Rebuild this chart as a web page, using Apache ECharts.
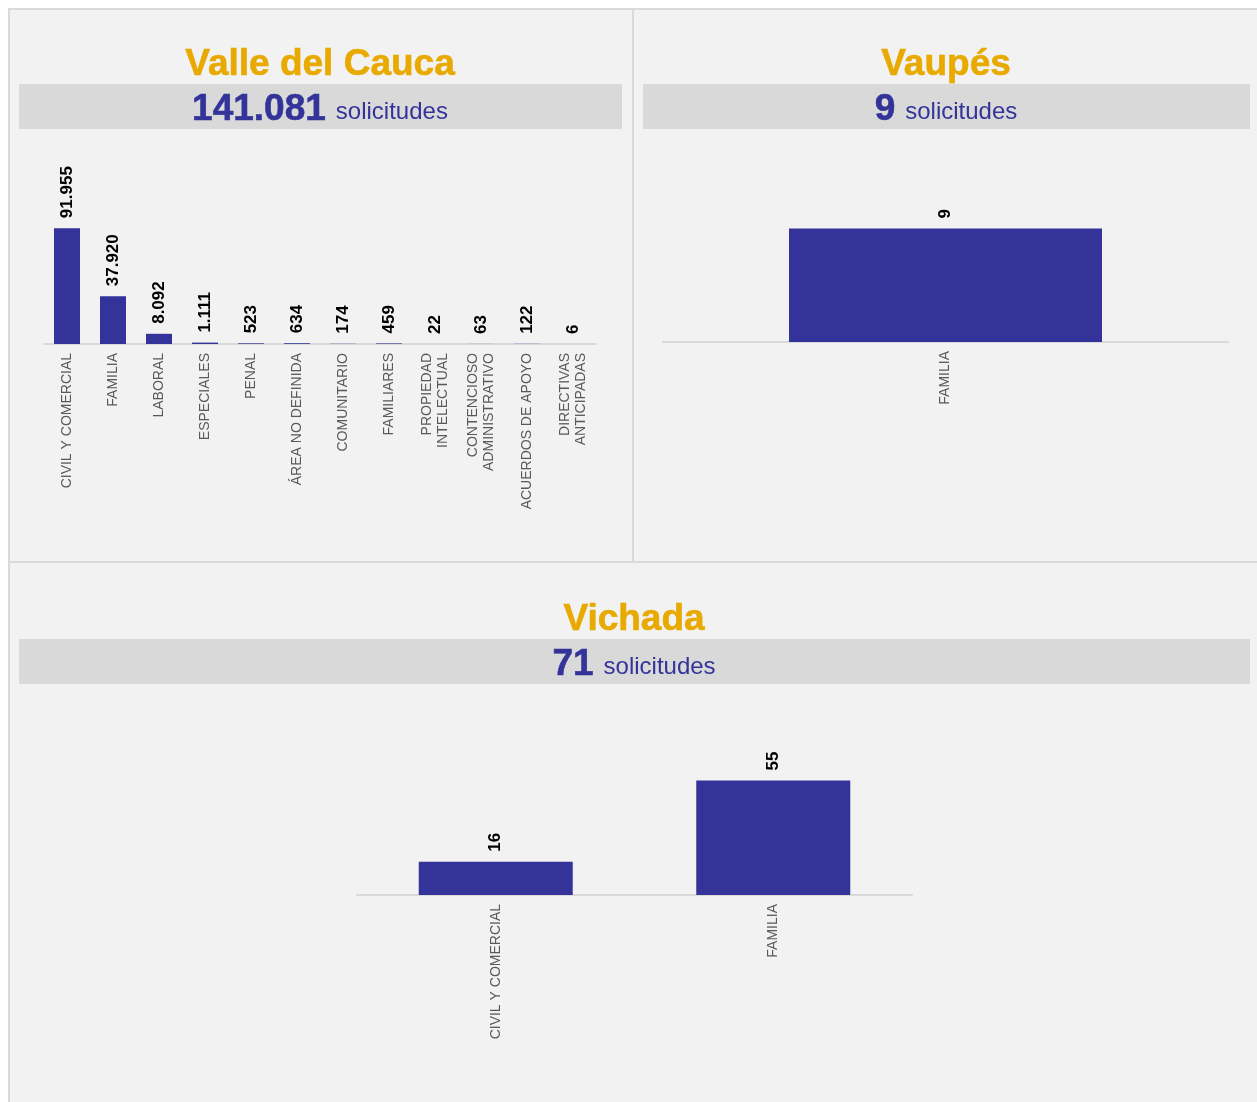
<!DOCTYPE html>
<html>
<head>
<meta charset="utf-8">
<script src="https://cdn.jsdelivr.net/npm/echarts@6/dist/echarts.min.js"></script>
<style>
  html, body { margin: 0; padding: 0; background: #ffffff; }
  #chart { width: 1257px; height: 1102px; }
</style>
</head>
<body>
<div id="chart"></div>
<script>
// datos por departamento
var valleCats = ['CIVIL Y COMERCIAL', 'FAMILIA', 'LABORAL', 'ESPECIALES', 'PENAL', 'ÁREA NO DEFINIDA',
  'COMUNITARIO', 'FAMILIARES', 'PROPIEDAD\nINTELECTUAL', 'CONTENCIOSO\nADMINISTRATIVO',
  'ACUERDOS DE APOYO', 'DIRECTIVAS\nANTICIPADAS'];
var valleVals = [91955, 37920, 8092, 1111, 523, 634, 174, 459, 22, 63, 122, 6];

var vaupesCats = ['FAMILIA'];
var vaupesVals = [9];

var vichadaCats = ['CIVIL Y COMERCIAL', 'FAMILIA'];
var vichadaVals = [16, 55];

var FONT = '"Liberation Sans", Arial, sans-serif';
var BAR = '#333399';
var GOLD = '#e8a900';

// separador de miles con punto
function fmt(n) {
  return String(n).replace(/\B(?=(\d{3})+(?!\d))/g, '.');
}
function total(arr) {
  return arr.reduce(function (a, b) { return a + b; }, 0);
}

var myChart = echarts.init(document.getElementById('chart'));

function header(cx, yTitle, yBand, bx, bw, name, vals) {
  return [
    {
      type: 'rect', silent: true,
      shape: { x: bx, y: yBand, width: bw, height: 45 },
      style: { fill: '#d9d9d9' }
    },
    {
      type: 'text', silent: true, x: cx, y: yTitle,
      style: {
        text: name, align: 'center', verticalAlign: 'middle',
        fill: GOLD, stroke: GOLD, lineWidth: 0.6, font: 'bold 37px ' + FONT
      }
    },
    {
      type: 'text', silent: true, x: cx, y: yBand + 26,
      style: {
        text: '{n|' + fmt(total(vals)) + '}{s|solicitudes}',
        align: 'center', verticalAlign: 'middle',
        rich: {
          n: { fontFamily: FONT, fontWeight: 'bold', fontSize: 37, fill: BAR, color: BAR,
               stroke: BAR, lineWidth: 0.6 },
          s: { fontFamily: FONT, fontSize: 24, fill: BAR, color: BAR, padding: [4, 0, 0, 10] }
        }
      }
    }
  ];
}

function xAx(idx, cats) {
  return {
    type: 'category', gridIndex: idx, data: cats,
    axisLine: { lineStyle: { color: '#d9d9d9', width: 2 } },
    axisTick: { show: false },
    axisLabel: {
      rotate: 90, interval: 0, margin: 9, color: '#595959',
      fontFamily: FONT, fontSize: 14, lineHeight: 16
    }
  };
}
function yAx(idx) {
  return { type: 'value', gridIndex: idx, show: false, splitLine: { show: false } };
}
function bars(idx, vals, w) {
  return {
    type: 'bar', xAxisIndex: idx, yAxisIndex: idx, data: vals,
    barWidth: w,
    itemStyle: { color: BAR },
    label: {
      show: true, position: 'top', distance: 10, rotate: 90,
      align: 'left', verticalAlign: 'middle',
      color: '#000', fontFamily: FONT, fontWeight: 'bold', fontSize: 17,
      formatter: function (p) { return fmt(p.value); }
    }
  };
}

var graphics = [
  {
    type: 'rect', silent: true,
    shape: { x: 9, y: 9, width: 1260, height: 1100 },
    style: { fill: '#f2f2f2', stroke: '#d9d9d9', lineWidth: 2 }
  },
  { type: 'line', silent: true, shape: { x1: 633, y1: 9, x2: 633, y2: 562 }, style: { stroke: '#d9d9d9', lineWidth: 2 } },
  { type: 'line', silent: true, shape: { x1: 9, y1: 562, x2: 1257, y2: 562 }, style: { stroke: '#d9d9d9', lineWidth: 2 } }
];
graphics = graphics
  .concat(header(320, 65, 84, 19, 603, 'Valle del Cauca', valleVals))
  .concat(header(946, 65, 84, 643, 607, 'Vaupés', vaupesVals))
  .concat(header(634, 620, 639, 19, 1231, 'Vichada', vichadaVals));

var option = {
  animation: false,
  graphic: graphics,
  grid: [
    { left: 44, width: 552, top: 218, height: 126 },
    { left: 663, width: 565, top: 216, height: 126 },
    { left: 357, width: 555, top: 770, height: 125 }
  ],
  xAxis: [xAx(0, valleCats), xAx(1, vaupesCats), xAx(2, vichadaCats)],
  yAxis: [yAx(0), yAx(1), yAx(2)],
  series: [bars(0, valleVals, 26), bars(1, vaupesVals, 313), bars(2, vichadaVals, 154)]
};

myChart.setOption(option);
window.addEventListener('resize', function () { myChart.resize(); });
</script>
</body>
</html>
